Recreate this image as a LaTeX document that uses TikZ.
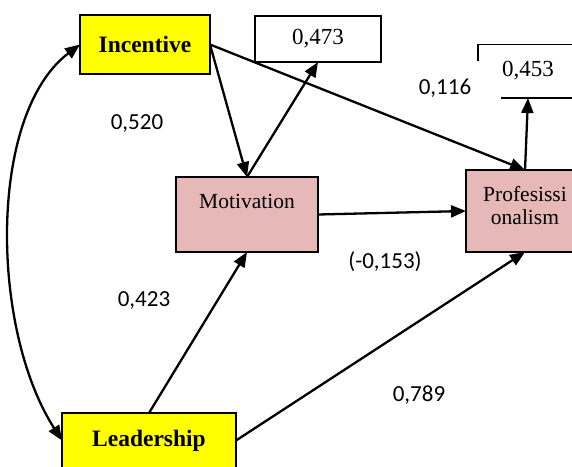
\documentclass[tikz,border=0pt]{standalone}
\usepackage{fontspec}
\setmainfont{Liberation Serif}
\newfontfamily\lblfont{Carlito}
\usetikzlibrary{arrows.meta}
\definecolor{boxyellow}{RGB}{255,255,0}
\definecolor{boxpink}{RGB}{230,184,183}
\tikzset{
  every node/.style={inner sep=0pt, outer sep=0pt},
  ybox/.style={draw=black, line width=1.6pt, fill=boxyellow, font=\fontsize{23.5}{26}\selectfont\bfseries},
  pbox/.style={draw=black, line width=1.6pt, fill=boxpink},
  wbox/.style={draw=black, line width=1.6pt, fill=white, font=\fontsize{23}{25}\selectfont},
  ttext/.style={font=\fontsize{21.5}{23}\selectfont, align=center},
  coef/.style={font=\lblfont\fontsize{23}{25}\selectfont},
  conn/.style={line width=2.3pt, -{Triangle[length=15pt,width=12pt]}},
}
\begin{document}
\begin{tikzpicture}[x=1pt,y=-1pt]
\useasboundingbox (0,0) rectangle (572,466);
% boxes
\node[ybox, minimum width=130, minimum height=59] (inc) at (145,44.5) {Incentive};
\node[wbox, minimum width=126, minimum height=46] (r473) at (318,39) {0,473};
\node[pbox, minimum width=142, minimum height=75] (mot) at (247,214.5) {};
\node[ttext] (motT) at (247,201) {Motivation};
\node[pbox, minimum width=118, minimum height=82] (prof) at (525,211) {};
\node[ttext] (profT) at (525,206) {Profesissi\\onalism};
\node[ybox, minimum width=174, minimum height=55] (lead) at (149,440.5) {Leadership};
\node[font=\fontsize{23}{25}\selectfont, minimum width=100, minimum height=54] (r453) at (528,71) {0,453};
% partial frame of 0,453
\draw[line width=1.6pt] (478,61) -- (478,44.5) -- (580,44.5);
\draw[line width=1.6pt] (501,98) -- (580,98);
% connectors
\draw[line width=2.3pt, {Triangle[length=15pt,width=12pt]}-{Triangle[length=15pt,width=12pt]}]
  (inc.west) .. controls (-12,114) and (-10,328) .. (lead.west);
\draw[conn] (inc.east) -- (mot.north);
\draw[conn] (mot.north) -- (r473.south);
\draw[conn] (inc.east) -- (prof.north);
\draw[conn] (prof.north) -- (r453.south);
\draw[conn] (mot.east) -- (prof.west);
\draw[conn] (lead.north) -- (mot.south);
\draw[conn] (lead.east) -- (prof.south);
% coefficients
\node[coef] (c520) at (137,124) {0,520};
\node[coef] (c116) at (445,88) {0,116};
\node[coef] (c153) at (385,262) {(-0,153)};
\node[coef] (c423) at (144,301) {0,423};
\node[coef] (c789) at (419,395) {0,789};
\end{tikzpicture}
\end{document}
